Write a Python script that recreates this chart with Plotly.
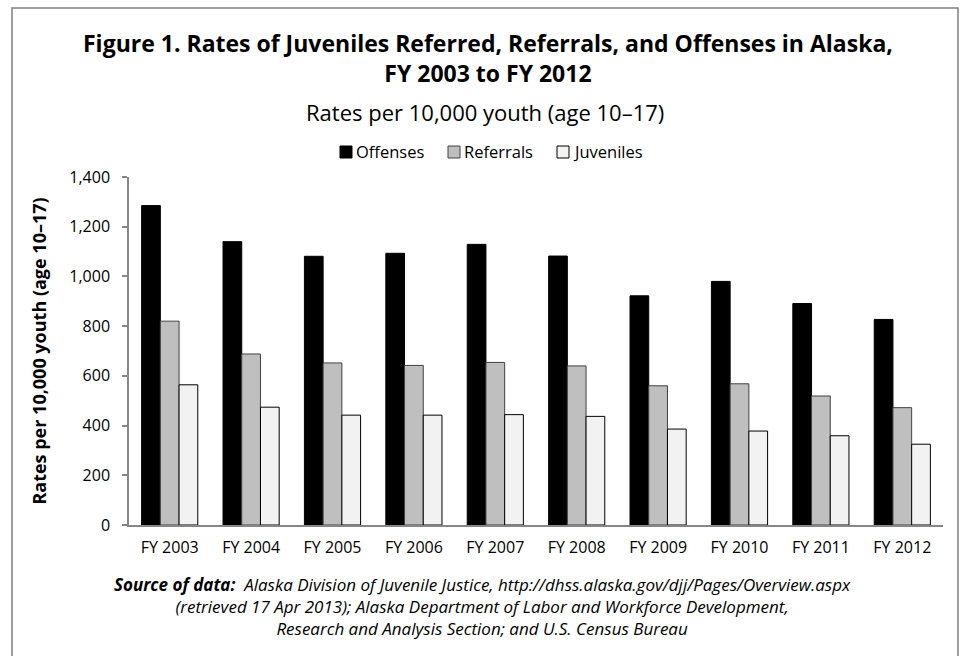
import plotly.graph_objects as go

# Fiscal years on the category axis
years = ["FY 2003", "FY 2004", "FY 2005", "FY 2006", "FY 2007",
         "FY 2008", "FY 2009", "FY 2010", "FY 2011", "FY 2012"]

# Rates per 10,000 youth (age 10-17)
offenses = [1285, 1140, 1081, 1093, 1129, 1082, 922, 980, 891, 827]
referrals = [820, 688, 652, 642, 654, 640, 560, 568, 519, 472]
juveniles = [564, 474, 442, 442, 444, 437, 386, 378, 359, 325]

series_names = ["Offenses", "Referrals", "Juveniles"]
y_ticks = [0, 200, 400, 600, 800, 1000, 1200, 1400]

FONT = "Open Sans"
W, H = 961, 656
L, R, T, B = 129, 18, 177, 131  # plot-area margins in px
PW, PH = W - L - R, H - T - B


def px_x(x):
    return (x - L) / PW


def px_y(y):
    return (H - B - y) / PH


styles = [
    dict(color="#000000", line=dict(color="#000000", width=1)),
    dict(color="#BFBFBF", line=dict(color="#404040", width=1)),
    dict(color="#F2F2F2", line=dict(color="#000000", width=1)),
]

fig = go.Figure()
for name, vals, st in zip(series_names, [offenses, referrals, juveniles], styles):
    fig.add_trace(go.Bar(name=name, x=years, y=vals, marker=st, showlegend=False))

fig.update_layout(
    width=W, height=H,
    margin=dict(l=L, r=R, t=T, b=B),
    paper_bgcolor="white", plot_bgcolor="white",
    barmode="group", bargap=0.31, bargroupgap=0,
    font=dict(family=FONT, color="#000000"),
    xaxis=dict(showline=True, linecolor="#868686", linewidth=1.5, ticks="",
               ticklabelstandoff=7,
               tickfont=dict(family=FONT, size=16, color="#000000"), showgrid=False),
    yaxis=dict(range=[0, 1400], tickvals=y_ticks, tickformat=",d",
               showline=True, linecolor="#868686", linewidth=1.5,
               ticks="outside", ticklen=5, tickcolor="#868686", tickwidth=1.5,
               ticklabelstandoff=9,
               tickfont=dict(family=FONT, size=16, color="#000000"),
               showgrid=False, zeroline=False,
               title=dict(text="<b>Rates per 10,000 youth (age 10\u201317)</b>",
                          font=dict(family=FONT, size=18, color="#000000"), standoff=18)),
)

annotations = [
    dict(text="<b>Figure 1. Rates of Juveniles Referred, Referrals, and Offenses in Alaska,"
              "<br>FY 2003 to FY 2012</b>",
         x=px_x(488), y=px_y(58), font=dict(size=23)),
    dict(text="Rates per 10,000 youth (age 10\u201317)",
         x=px_x(485), y=px_y(112), font=dict(size=22)),
    dict(text="<i><b>Source of data:</b>  Alaska Division of Juvenile Justice, "
              "http://dhss.alaska.gov/djj/Pages/Overview.aspx"
              "<br>(retrieved 17 Apr 2013); Alaska Department of Labor and Workforce Development,"
              "<br>Research and Analysis Section; and U.S. Census Bureau</i>",
         x=px_x(482), y=px_y(606), font=dict(size=17)),
]
for a in annotations:
    a.update(xref="paper", yref="paper", xanchor="center", yanchor="middle",
             showarrow=False, align="center")
    a["font"].update(family=FONT, color="#000000")
    fig.add_annotation(**a)

# Compact legend: swatch immediately followed by its label
legend_x = [340, 448, 557]
legend_yc = 152
for name, st, lx in zip(series_names, styles, legend_x):
    fig.add_shape(type="rect", xref="paper", yref="paper",
                  x0=px_x(lx), x1=px_x(lx + 12), y0=px_y(legend_yc + 6), y1=px_y(legend_yc - 6),
                  fillcolor=st["color"], line=dict(color=st["line"]["color"], width=1))
    fig.add_annotation(text=name, xref="paper", yref="paper", x=px_x(lx + 14), y=px_y(legend_yc),
                       xanchor="left", yanchor="middle", showarrow=False,
                       font=dict(family=FONT, size=16.5, color="#000000"))

# Outer frame around the whole figure
fig.add_shape(type="rect", xref="paper", yref="paper",
              x0=px_x(12), x1=px_x(958), y0=px_y(660), y1=px_y(8),
              line=dict(color="#808080", width=1.5), fillcolor="rgba(0,0,0,0)", layer="below")

fig.write_html("out.html")
